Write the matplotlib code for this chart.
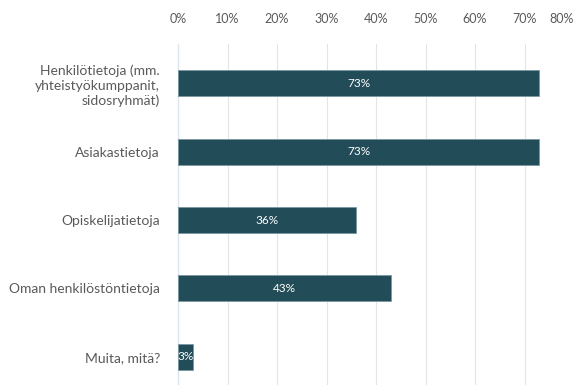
import matplotlib
matplotlib.use("Agg")
import matplotlib.pyplot as plt
from matplotlib.ticker import FixedLocator

categories = ["Henkilötietoja (mm.\nyhteistyökumppanit,\nsidosryhmät)",
              "Asiakastietoja", "Opiskelijatietoja",
              "Oman henkilöstöntietoja", "Muita, mitä?"]
values = [73, 73, 36, 43, 3]
xticks = [0, 10, 20, 30, 40, 50, 60, 70, 80]
xtick_labels = ["0%", "10%", "20%", "30%", "40%", "50%", "60%", "70%", "80%"]

plt.rcParams['font.family'] = ['Lato', 'DejaVu Sans']

fig = plt.figure(figsize=(5.75, 3.85), dpi=100)
W, H = 575, 385
left, right = 178, 574
top, bottom = 44, 396
ax = fig.add_axes([left / W, 1 - bottom / H, (right - left) / W, (bottom - top) / H])

ypos = list(range(len(categories)))
color = "#234c59"
bars = ax.barh(ypos, values, height=0.38, color=color, edgecolor="#7a98a3", linewidth=0.6, zorder=3)
for y, v in zip(ypos, values):
    ax.text(v / 2, y, f"{v}%", ha="center", va="center", color="white", fontsize=8.5, zorder=4)

ax.set_xlim(0, 80)
ax.set_ylim(len(categories) - 0.43, -0.57)
ax.set_yticks(ypos)
ax.set_yticklabels(categories, fontsize=10, color="#5a5a5a", ha="right", linespacing=1.3)
ax.xaxis.set_major_locator(FixedLocator(xticks))
ax.set_xticklabels(xtick_labels, fontsize=9, color="#5a5a5a")
ax.xaxis.tick_top()
ax.tick_params(axis="x", length=0, pad=14)
ax.tick_params(axis="y", length=0, pad=13)
lbls = ax.get_xticklabels()
lbls[-1].set_ha("right")
ax.grid(axis="x", color="#e4e4e4", linewidth=0.8, zorder=0)
for s in ["top", "right", "bottom"]:
    ax.spines[s].set_visible(False)
ax.spines["left"].set_color("#dfe5ec")
ax.spines["left"].set_linewidth(1.0)

fig.savefig("out.png", dpi=100)
